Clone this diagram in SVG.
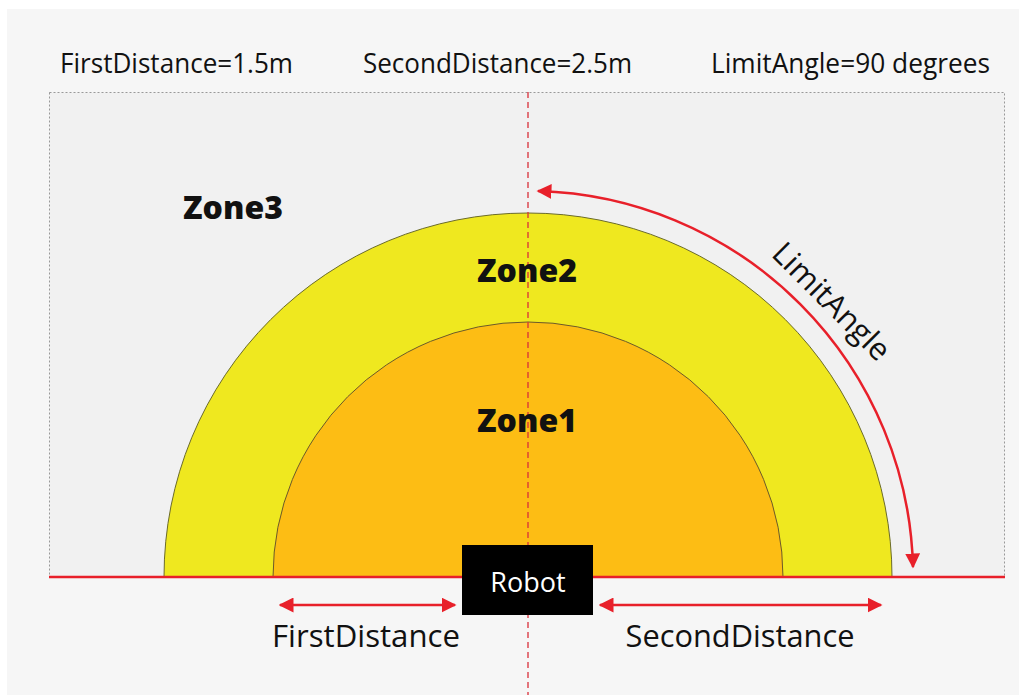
<svg xmlns="http://www.w3.org/2000/svg" width="1019" height="695" viewBox="0 0 1019 695">
<style>
.lbl{font-family:"Open Sans","Liberation Sans",sans-serif;fill:#111;}
.top{font-size:27px;}
.zone{font-size:32px;font-weight:800;}
.dist{font-size:31px;}
.red{stroke:#e8202a;stroke-width:2.5;fill:none;}
</style>
<defs>
<marker id="ah" viewBox="0 0 10 10" refX="9" refY="5" markerWidth="6" markerHeight="6" orient="auto-start-reverse" markerUnits="strokeWidth">
<path d="M0,0 L10,5 L0,10 z" fill="#e8202a"/>
</marker>
</defs>
<rect x="0" y="0" width="1019" height="695" fill="#ffffff"/>
<rect x="7" y="9" width="1012" height="686" fill="#f6f6f6"/>
<rect x="49.5" y="92.5" width="955" height="484" fill="#f1f1f1" stroke="#999" stroke-width="1" stroke-dasharray="2 2"/>
<g id="zone2">
<path d="M164,577 A364,364 0 0 1 892,577 Z" fill="#efe81f" stroke="#6b6b2a" stroke-width="1"/>
</g>
<g id="zone1">
<path d="M273,577 A255,255 0 0 1 783,577 Z" fill="#fdbd14" stroke="#6b5a2a" stroke-width="1"/>
</g>
<g id="connectors">
<line x1="49" y1="577" x2="1005" y2="577" stroke="#e8202a" stroke-width="2.5"/>
<line x1="528" y1="92" x2="528" y2="695" stroke="#d9303a" stroke-width="1.3" stroke-dasharray="6 4"/>
<path class="red" d="M538,191 A386,386 0 0 1 913,567" marker-start="url(#ah)" marker-end="url(#ah)"/>
<line class="red" x1="280" y1="605" x2="455" y2="605" marker-start="url(#ah)" marker-end="url(#ah)"/>
<line class="red" x1="600" y1="605" x2="881" y2="605" marker-start="url(#ah)" marker-end="url(#ah)"/>
</g>
<g id="robot">
<rect x="462" y="545" width="131" height="70" fill="#000"/>
<text x="528" y="592" text-anchor="middle" font-family="'Open Sans','Liberation Sans',sans-serif" font-size="27" fill="#fff">Robot</text>
</g>
<g id="labels">
<text class="lbl top" x="60" y="73" textLength="233" lengthAdjust="spacingAndGlyphs">FirstDistance=1.5m</text>
<text class="lbl top" x="363" y="73" textLength="269" lengthAdjust="spacingAndGlyphs">SecondDistance=2.5m</text>
<text class="lbl top" x="711" y="73" textLength="279" lengthAdjust="spacingAndGlyphs">LimitAngle=90 degrees</text>
<text class="lbl zone" x="183" y="219">Zone3</text>
<text class="lbl zone" x="527" y="282" text-anchor="middle">Zone2</text>
<text class="lbl zone" x="527" y="432" text-anchor="middle">Zone1</text>
<text class="lbl dist" x="366" y="647" text-anchor="middle" textLength="188" lengthAdjust="spacingAndGlyphs">FirstDistance</text>
<text class="lbl dist" x="740" y="647" text-anchor="middle" textLength="229" lengthAdjust="spacingAndGlyphs">SecondDistance</text>
<text class="lbl dist" x="0" y="0" text-anchor="middle" transform="translate(824,309) rotate(45)">LimitAngle</text>
</g>
</svg>
